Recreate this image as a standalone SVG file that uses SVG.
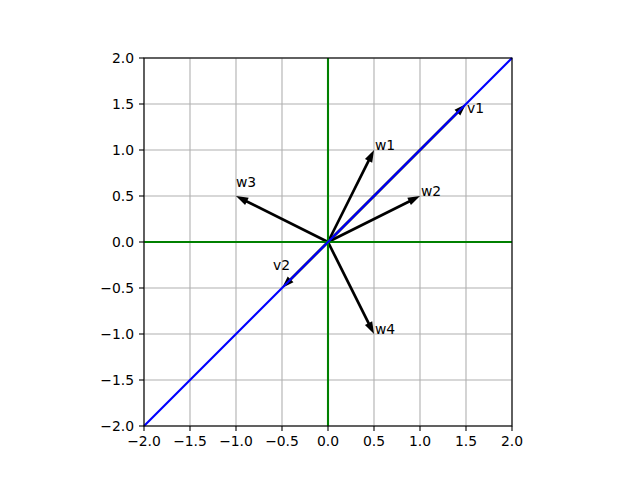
<svg xmlns="http://www.w3.org/2000/svg" width="640" height="479" viewBox="0 0 640 479">
<style>
text{font-family:"DejaVu Sans",sans-serif;font-size:13.9px;fill:#000}
.grid line{stroke:#b0b0b0;stroke-width:1.1}
.tick line{stroke:#000;stroke-width:1.1}
.arrow{fill:#000}
.xl{text-anchor:middle}
.yl{text-anchor:end}
</style>
<rect width="640" height="479" fill="#fff"/>
<g class="grid" id="grid">
<line x1="144" y1="58" x2="144" y2="426"/><line x1="190" y1="58" x2="190" y2="426"/><line x1="236" y1="58" x2="236" y2="426"/><line x1="282" y1="58" x2="282" y2="426"/><line x1="328" y1="58" x2="328" y2="426"/><line x1="374" y1="58" x2="374" y2="426"/><line x1="420" y1="58" x2="420" y2="426"/><line x1="466" y1="58" x2="466" y2="426"/><line x1="512" y1="58" x2="512" y2="426"/>
<line x1="144" y1="58" x2="512" y2="58"/><line x1="144" y1="104" x2="512" y2="104"/><line x1="144" y1="150" x2="512" y2="150"/><line x1="144" y1="196" x2="512" y2="196"/><line x1="144" y1="242" x2="512" y2="242"/><line x1="144" y1="288" x2="512" y2="288"/><line x1="144" y1="334" x2="512" y2="334"/><line x1="144" y1="380" x2="512" y2="380"/><line x1="144" y1="426" x2="512" y2="426"/>
</g>
<g id="arrows">
<g id="w1" transform="translate(328,242) rotate(-63.43)"><path class="arrow" d="M0,-1.35 L90.7,-1.35 L90.7,-4.05 L102.9,0 L90.7,4.05 L90.7,1.35 L0,1.35Z"/></g>
<g id="w2" transform="translate(328,242) rotate(-26.57)"><path class="arrow" d="M0,-1.35 L90.7,-1.35 L90.7,-4.05 L102.9,0 L90.7,4.05 L90.7,1.35 L0,1.35Z"/></g>
<g id="w3" transform="translate(328,242) rotate(-153.43)"><path class="arrow" d="M0,-1.35 L90.7,-1.35 L90.7,-4.05 L102.9,0 L90.7,4.05 L90.7,1.35 L0,1.35Z"/></g>
<g id="w4" transform="translate(328,242) rotate(63.43)"><path class="arrow" d="M0,-1.35 L90.7,-1.35 L90.7,-4.05 L102.9,0 L90.7,4.05 L90.7,1.35 L0,1.35Z"/></g>
<g id="v1" transform="translate(328,242) rotate(-45)"><path class="arrow" d="M0,-1.35 L183,-1.35 L183,-4.05 L195.2,0 L183,4.05 L183,1.35 L0,1.35Z"/></g>
<g id="v2" transform="translate(328,242) rotate(135)"><path class="arrow" d="M0,-1.35 L52.9,-1.35 L52.9,-4.05 L65.1,0 L52.9,4.05 L52.9,1.35 L0,1.35Z"/></g>
</g>
<g id="lines" fill="none" stroke-width="2.1">
<line x1="144" y1="242" x2="512" y2="242" stroke="#008000"/>
<line x1="328" y1="58" x2="328" y2="426" stroke="#008000"/>
<line x1="144" y1="426" x2="512" y2="58" stroke="#0000ff"/>
</g>
<g id="labels">
<text x="375" y="150">w1</text>
<text x="421" y="196">w2</text>
<text x="236" y="187">w3</text>
<text x="375" y="334">w4</text>
<text x="467" y="113">v1</text>
<text x="273" y="270">v2</text>
</g>
<rect x="144" y="58" width="368" height="368" fill="none" stroke="#000" stroke-width="1.1"/>
<g class="tick" id="xticks">
<line x1="144" y1="426" x2="144" y2="431"/><line x1="190" y1="426" x2="190" y2="431"/><line x1="236" y1="426" x2="236" y2="431"/><line x1="282" y1="426" x2="282" y2="431"/><line x1="328" y1="426" x2="328" y2="431"/><line x1="374" y1="426" x2="374" y2="431"/><line x1="420" y1="426" x2="420" y2="431"/><line x1="466" y1="426" x2="466" y2="431"/><line x1="512" y1="426" x2="512" y2="431"/>
<text class="xl" x="144" y="446">−2.0</text><text class="xl" x="190" y="446">−1.5</text><text class="xl" x="236" y="446">−1.0</text><text class="xl" x="282" y="446">−0.5</text><text class="xl" x="328" y="446">0.0</text><text class="xl" x="374" y="446">0.5</text><text class="xl" x="420" y="446">1.0</text><text class="xl" x="466" y="446">1.5</text><text class="xl" x="512" y="446">2.0</text>
</g>
<g class="tick" id="yticks">
<line x1="139" y1="58" x2="144" y2="58"/><line x1="139" y1="104" x2="144" y2="104"/><line x1="139" y1="150" x2="144" y2="150"/><line x1="139" y1="196" x2="144" y2="196"/><line x1="139" y1="242" x2="144" y2="242"/><line x1="139" y1="288" x2="144" y2="288"/><line x1="139" y1="334" x2="144" y2="334"/><line x1="139" y1="380" x2="144" y2="380"/><line x1="139" y1="426" x2="144" y2="426"/>
<text class="yl" x="134" y="63">2.0</text><text class="yl" x="134" y="109">1.5</text><text class="yl" x="134" y="155">1.0</text><text class="yl" x="134" y="201">0.5</text><text class="yl" x="134" y="247">0.0</text><text class="yl" x="134" y="293">−0.5</text><text class="yl" x="134" y="339">−1.0</text><text class="yl" x="134" y="385">−1.5</text><text class="yl" x="134" y="431">−2.0</text>
</g>
</svg>
